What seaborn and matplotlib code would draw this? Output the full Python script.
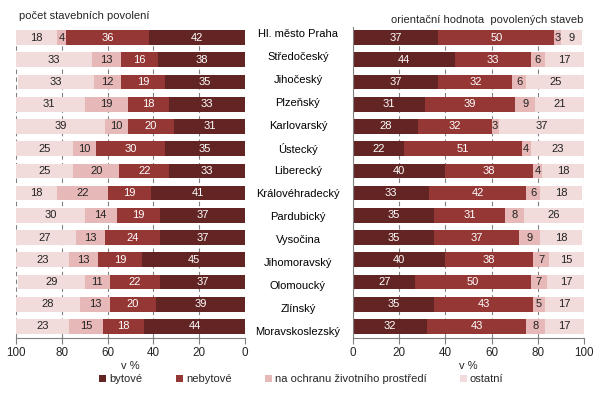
import matplotlib
matplotlib.use("Agg")
import matplotlib.pyplot as plt
from matplotlib.patches import Patch
import seaborn as sns
import numpy as np

# ---- data ----
regions = ["Hl. město Praha", "Středočeský", "Jihočeský", "Plzeňský", "Karlovarský",
           "Ústecký", "Liberecký", "Královéhradecký", "Pardubický", "Vysočina",
           "Jihomoravský", "Olomoucký", "Zlínský", "Moravskoslezský"]
series = ["bytové", "nebytové", "na ochranu životního prostředí", "ostatní"]

# počet stavebních povolení (%)
permits_bytove = [42, 38, 35, 33, 31, 35, 33, 41, 37, 37, 45, 37, 39, 44]
permits_nebytove = [36, 16, 19, 18, 20, 30, 22, 19, 19, 24, 19, 22, 20, 18]
permits_ochrana = [4, 13, 12, 19, 10, 10, 20, 22, 14, 13, 13, 11, 13, 15]
permits_ostatni = [18, 33, 33, 31, 39, 25, 25, 18, 30, 27, 23, 29, 28, 23]

# orientační hodnota povolených staveb (%)
value_bytove = [37, 44, 37, 31, 28, 22, 40, 33, 35, 35, 40, 27, 35, 32]
value_nebytove = [50, 33, 32, 39, 32, 51, 38, 42, 31, 37, 38, 50, 43, 43]
value_ochrana = [3, 6, 6, 9, 3, 4, 4, 6, 8, 9, 7, 7, 5, 8]
value_ostatni = [9, 17, 25, 21, 37, 23, 18, 18, 26, 18, 15, 17, 17, 17]

colors = ["#632523", "#953735", "#E6B9B8", "#F2DCDB"]
text_colors = ["white", "white", "#222222", "#222222"]

sns.set_style("white")
plt.rcParams["font.family"] = ["Liberation Sans", "DejaVu Sans"]

W, H = 601, 397
FS = 8


def stacked_panel(ax, parts):
    """Draw a horizontal stacked bar chart with seaborn by overlaying cumulative sums."""
    parts = [np.array(p, dtype=float) for p in parts]
    cums = np.cumsum(parts, axis=0)
    # draw biggest cumulative first so that smaller ones sit on top
    for i in range(len(parts) - 1, -1, -1):
        sns.barplot(x=cums[i], y=regions, orient="h", color=colors[i], saturation=1,
                    width=0.66, linewidth=0, edgecolor="none", ax=ax, zorder=2)
    # labels in the middle of each segment
    for i in range(len(parts)):
        starts = cums[i] - parts[i]
        for row, (s, v) in enumerate(zip(starts, parts[i])):
            ax.text(s + v / 2, row, f"{int(v)}", ha="center", va="center",
                    fontsize=FS, color=text_colors[i], zorder=3)
    ax.set_xlim(0, 100)
    ax.set_ylim(13.5, -0.5)
    ax.set_xticks([0, 20, 40, 60, 80, 100])
    ax.set_yticks([])
    ax.set_ylabel("")
    ax.set_xlabel("v %", fontsize=FS, labelpad=1)
    ax.tick_params(axis="x", labelsize=8.4, length=4, color="#808080",
                   direction="out", bottom=True, pad=3)
    ax.xaxis.grid(True, linestyle=(0, (4, 3)), color="#808080", linewidth=0.8, zorder=0)
    ax.set_axisbelow(True)
    for side in ["top", "left", "right"]:
        ax.spines[side].set_visible(False)
    ax.spines["bottom"].set_color("#808080")


fig = plt.figure(figsize=(W / 100, H / 100), dpi=100)
ax_l = fig.add_axes([16 / W, 1 - 337.5 / H, 229 / W, 311 / H])
ax_r = fig.add_axes([353 / W, 1 - 337.5 / H, 231 / W, 311 / H])

stacked_panel(ax_l, [permits_bytove, permits_nebytove, permits_ochrana, permits_ostatni])
ax_l.invert_xaxis()

stacked_panel(ax_r, [value_bytove, value_nebytove, value_ochrana, value_ostatni])
ax_r.spines["left"].set_visible(True)
ax_r.spines["left"].set_color("#808080")

# region names between the two panels (slightly wider spacing than the bars)
for row, name in enumerate(regions):
    fig.text(298 / W, 1 - (34 + row * 22.9) / H, name, ha="center", va="center",
             fontsize=FS, color="black")

fig.text(19 / W, 1 - 16 / H, "počet stavebních povolení", ha="left", va="center", fontsize=FS)
fig.text(583 / W, 1 - 20 / H, "orientační hodnota  povolených staveb",
         ha="right", va="center", fontsize=FS)

handles = [Patch(facecolor=c, edgecolor="none") for c in colors]
fig.legend(handles, series, loc="center", bbox_to_anchor=(0.5 + 1 / W, 1 - 379 / H), ncol=4,
           frameon=False, fontsize=FS, handlelength=0.6, handleheight=0.6,
           handletextpad=0.3, columnspacing=3.0, borderaxespad=0, borderpad=0)

fig.savefig("out.png", dpi=100)
